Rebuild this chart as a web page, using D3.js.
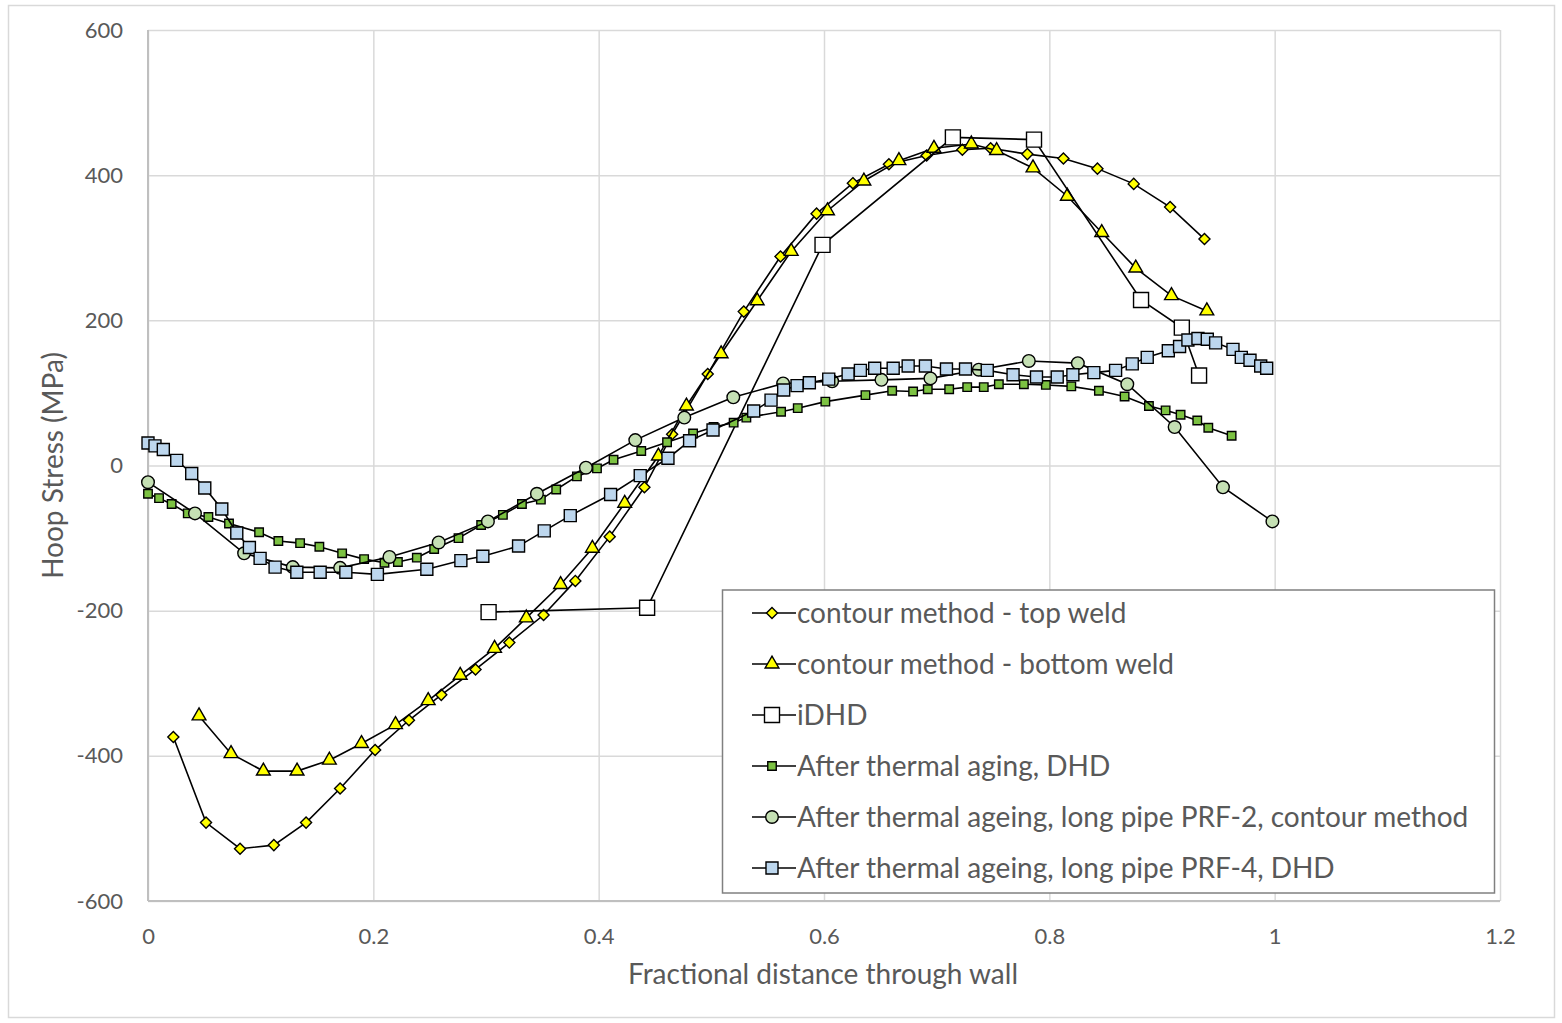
<!DOCTYPE html>
<html><head><meta charset="utf-8">
<script src="https://cdn.jsdelivr.net/npm/d3@7"></script>
<style>
html,body{margin:0;padding:0;background:#fff;}
svg{display:block;}
text{font-family:Lato,"Noto Sans",sans-serif;fill:#595959;}
</style></head>
<body>
<svg id="chart" width="1562" height="1023"></svg>
<script>
const xTicks = [0, 0.2, 0.4, 0.6, 0.8, 1, 1.2];
const yTicks = [-600, -400, -200, 0, 200, 400, 600];
const xTitle = "Fractional distance through wall";
const yTitle = "Hoop Stress (MPa)";
const seriesNames = [
  "contour method - top weld",
  "contour method - bottom weld",
  "iDHD",
  "After thermal aging, DHD",
  "After thermal ageing, long pipe PRF-2, contour method",
  "After thermal ageing, long pipe PRF-4, DHD"
];

const topWeld = [
  [0.0225,-374],[0.0515,-492],[0.0817,-528],[0.1117,-523],[0.1403,-492],[0.1705,-445],
  [0.2016,-392],[0.2316,-351],[0.2603,-316],[0.2907,-281],[0.3207,-244],[0.3511,-206],
  [0.3793,-159],[0.4098,-98],[0.4406,-30],[0.4652,43],[0.4968,126],[0.5288,212],
  [0.5614,288],[0.5934,347],[0.6256,389],[0.6576,415],[0.6911,427],[0.7228,435],
  [0.7479,437],[0.7805,429],[0.8125,423],[0.8427,409],[0.8749,388],[0.9072,356],[0.9377,312]
];
const bottomWeld = [
  [0.0453,-345],[0.0737,-397],[0.1024,-421],[0.1323,-421],[0.161,-406],[0.1895,-383],
  [0.2197,-357],[0.2487,-324],[0.2771,-289],[0.3076,-252],[0.3358,-210],[0.3662,-164],
  [0.3944,-114],[0.4231,-52],[0.453,13],[0.4779,82],[0.5087,154],[0.5407,227],
  [0.5709,295],[0.6031,351],[0.6354,392],[0.6665,420],[0.6976,437],[0.7308,443],
  [0.7532,434],[0.7855,410],[0.816,371],[0.8465,321],[0.8767,272],[0.9084,234],[0.9398,213]
];
const iDHD = [
  [0.3023,-202],[0.443,-196],[0.5987,304],[0.7144,452],[0.7864,449],[0.8814,228],[0.9176,190],[0.9329,124]
];
const agingDHD = [
  [0,-39],[0.0098,-45],[0.021,-53],[0.0353,-66],[0.0536,-71],[0.0719,-80],[0.0986,-92],
  [0.1157,-104],[0.135,-107],[0.1521,-112],[0.1723,-121],[0.1918,-129],[0.2099,-134],
  [0.2218,-133],[0.2386,-127],[0.254,-115],[0.2756,-100],[0.2957,-82],[0.315,-68],
  [0.3319,-53],[0.3487,-47],[0.3623,-33],[0.3807,-15],[0.3985,-4],[0.4132,8],[0.4378,20],
  [0.4607,32],[0.4838,44],[0.502,53],[0.5198,59],[0.5311,66],[0.5619,74],[0.5767,79],
  [0.6012,88],[0.6368,97],[0.6605,103],[0.6791,102],[0.6921,105],[0.7111,105],[0.7271,108],
  [0.7418,108],[0.7552,112],[0.7774,112],[0.7969,111],[0.8195,109],[0.844,103],[0.8668,95],
  [0.8884,82],[0.9032,76],[0.9165,70],[0.9313,62],[0.9411,52],[0.9618,41]
];
const prf2 = [
  [0,-23],[0.0417,-66],[0.0853,-121],[0.1285,-140],[0.1705,-141],[0.2143,-126],[0.258,-106],
  [0.3017,-77],[0.3452,-39],[0.3887,-3],[0.4325,35],[0.476,66],[0.5195,94],[0.5637,113],
  [0.6072,116],[0.651,118],[0.6945,120],[0.7374,132],[0.7818,144],[0.8253,141],[0.8692,112],
  [0.9112,53],[0.9541,-30],[0.998,-77]
];
const prf4 = [
  [0,31],[0.0062,27],[0.0136,22],[0.0255,7],[0.0388,-11],[0.0504,-31],[0.0655,-60],
  [0.0788,-93],[0.09,-113],[0.0995,-128],[0.1128,-140],[0.1321,-147],[0.1528,-147],
  [0.1756,-147],[0.2036,-150],[0.2475,-143],[0.2777,-131],[0.2972,-125],[0.3289,-111],
  [0.3517,-90],[0.3748,-69],[0.4106,-40],[0.4369,-14],[0.4615,10],[0.4807,34],[0.5015,49],
  [0.5376,75],[0.553,90],[0.5642,104],[0.5761,110],[0.587,114],[0.6042,119],[0.6214,126],
  [0.6323,131],[0.645,134],[0.6614,134],[0.6747,137],[0.69,137],[0.7087,133],[0.7256,133],
  [0.7449,131],[0.7678,125],[0.7886,122],[0.807,122],[0.8209,125],[0.8395,128],[0.8588,131],
  [0.8736,140],[0.8869,149],[0.9056,158],[0.9156,164],[0.923,173],[0.9319,175],[0.9402,174],
  [0.9476,169],[0.963,160],[0.9704,149],[0.9781,145],[0.9876,137],[0.9929,134]
];

const seriesData = [topWeld, bottomWeld, iDHD, agingDHD, prf2, prf4];
const markerStyles = [
  {type: d3.symbolDiamond2, size: 78, fill: "#ffff00"},
  {type: d3.symbolTriangle, size: 82, fill: "#ffff00"},
  {type: d3.symbolSquare, size: 225, fill: "#ffffff"},
  {type: d3.symbolSquare, size: 72, fill: "#7cc242"},
  {type: d3.symbolCircle, size: 125, fill: "#c5e0b4"},
  {type: d3.symbolSquare, size: 144, fill: "#bdd7ee"}
];

const svg = d3.select("#chart");
svg.append("rect").attr("x", 8.5).attr("y", 5.5).attr("width", 1546).attr("height", 1012)
  .attr("fill", "#fff").attr("stroke", "#d9d9d9").attr("stroke-width", 1.5);

const x = d3.scaleLinear().domain([0, 1.2]).range([148, 1500]);
const y = d3.scaleLinear().domain([-600, 600]).range([901, 30]);

// gridlines
const gx = svg.append("g").attr("transform", `translate(0,${y(-600)})`)
  .call(d3.axisBottom(x).tickValues(xTicks).tickSize(-(y(-600) - y(600))).tickFormat(""));
gx.select(".domain").remove();
gx.selectAll("line").attr("stroke", "#d9d9d9").attr("stroke-width", 1.5);
const gy = svg.append("g").attr("transform", `translate(${x(0)},0)`)
  .call(d3.axisLeft(y).tickValues(yTicks).tickSize(-(x(1.2) - x(0))).tickFormat(""));
gy.select(".domain").remove();
gy.selectAll("line").attr("stroke", "#d9d9d9").attr("stroke-width", 1.5);

// axis lines
svg.append("line").attr("x1", x(0)).attr("x2", x(0)).attr("y1", y(600)).attr("y2", y(-600))
  .attr("stroke", "#bfbfbf").attr("stroke-width", 2);
svg.append("line").attr("x1", x(0)).attr("x2", x(1.2)).attr("y1", y(-600)).attr("y2", y(-600))
  .attr("stroke", "#bfbfbf").attr("stroke-width", 2);

// tick labels
const ax = svg.append("g").attr("transform", `translate(0,${y(-600)})`)
  .call(d3.axisBottom(x).tickValues(xTicks).tickSize(0).tickPadding(27).tickFormat(d => String(d)));
ax.select(".domain").remove();
ax.selectAll("text").attr("font-size", 22).attr("fill", "#595959").attr("font-family", "Lato");
const ay = svg.append("g").attr("transform", `translate(${x(0)},0)`)
  .call(d3.axisLeft(y).tickValues(yTicks).tickSize(0).tickPadding(25).tickFormat(d => String(d)));
ay.select(".domain").remove();
ay.selectAll("text").attr("font-size", 22).attr("fill", "#595959").attr("font-family", "Lato");

// axis titles
svg.append("text").attr("x", 823).attr("y", 984).attr("text-anchor", "middle")
  .attr("font-size", 28).text(xTitle);
svg.append("text").attr("transform", `translate(63,${y(0)}) rotate(-90)`).attr("text-anchor", "middle")
  .attr("font-size", 28).text(yTitle);

// series
const line = d3.line().x(d => x(d[0])).y(d => y(d[1]));
seriesData.forEach((data, i) => {
  const g = svg.append("g");
  g.append("path").attr("d", line(data)).attr("fill", "none").attr("stroke", "#000").attr("stroke-width", 1.6);
  const ms = markerStyles[i];
  g.selectAll("path.m").data(data).enter().append("path").attr("class", "m")
    .attr("d", d3.symbol().type(ms.type).size(ms.size))
    .attr("transform", d => `translate(${x(d[0])},${y(d[1])})`)
    .attr("fill", ms.fill).attr("stroke", "#000").attr("stroke-width", 1.4);
});

// legend
const lg = svg.append("g");
lg.append("rect").attr("x", 722.5).attr("y", 590).attr("width", 772).attr("height", 303)
  .attr("fill", "#fff").attr("stroke", "#808080").attr("stroke-width", 1.5);
seriesNames.forEach((name, i) => {
  const cy = 613 + i * 51;
  lg.append("line").attr("x1", 752).attr("x2", 796).attr("y1", cy).attr("y2", cy)
    .attr("stroke", "#000").attr("stroke-width", 1.6);
  const ms = markerStyles[i];
  lg.append("path").attr("d", d3.symbol().type(ms.type).size(ms.size))
    .attr("transform", `translate(772,${cy})`).attr("fill", ms.fill).attr("stroke", "#000").attr("stroke-width", 1.4);
  lg.append("text").attr("x", 797).attr("y", cy).attr("dy", "0.36em")
    .attr("font-size", 28).text(name);
});
</script>
</body></html>
